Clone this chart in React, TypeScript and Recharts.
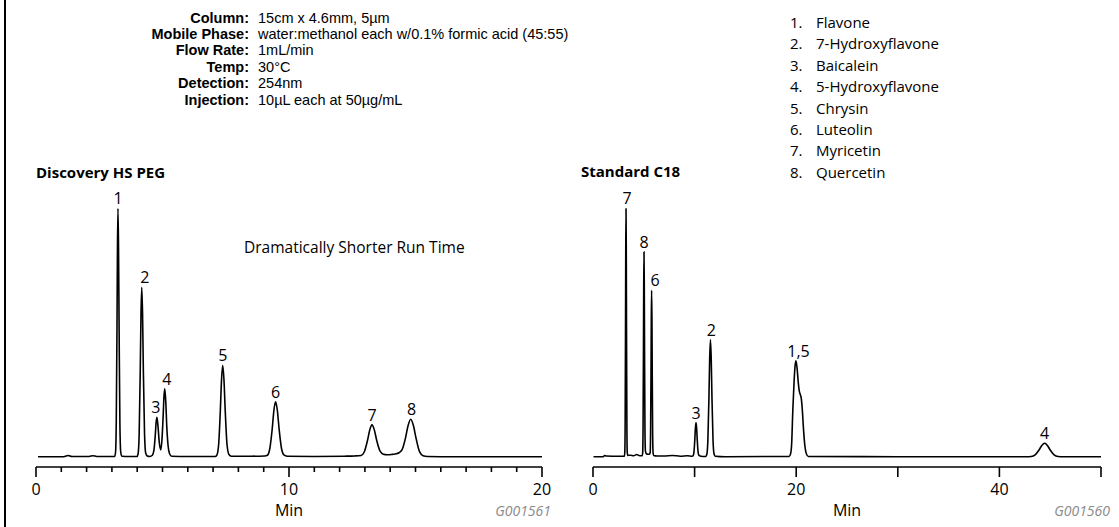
import React from "react"
import { LineChart, Line, XAxis, YAxis, ReferenceDot } from "recharts"

const conditionLabels = ["Column:", "Mobile Phase:", "Flow Rate:", "Temp:", "Detection:", "Injection:"]
const conditionValues = [
  "15cm x 4.6mm, 5µm",
  "water:methanol each w/0.1% formic acid (45:55)",
  "1mL/min",
  "30°C",
  "254nm",
  "10µL each at 50µg/mL",
]
const compounds = ["Flavone", "7-Hydroxyflavone", "Baicalein", "5-Hydroxyflavone", "Chrysin", "Luteolin", "Myricetin", "Quercetin"]

const pegTicks = [0, 1, 2, 3, 4, 5, 6, 7, 8, 9, 10, 11, 12, 13, 14, 15, 16, 17, 18, 19, 20]
const pegTickLabels = [0, 10, 20]
const c18Ticks = [0, 10, 20, 30, 40, 50]
const c18TickLabels = [0, 20, 40]

// [min, relative response]
const pegTrace: [number, number][] = [
  [0.08, 0], [1.1, 0], [1.27, 0.5], [1.42, 0.05], [2.1, 0.1], [2.25, 0.4], [2.4, 0.1], [3.0, 0.1],
  [3.11, 0.1], [3.144, 1.8], [3.172, 13.5], [3.2, 50], [3.22, 84], [3.24, 100], [3.262, 84], [3.286, 50], [3.316, 13.5], [3.348, 2], [3.39, 0.2],
  [3.7, 0.1], [3.99, 0.1], [4.036, 1.2], [4.078, 9.2], [4.12, 34.1], [4.15, 57.3], [4.18, 68.2], [4.212, 57.3], [4.244, 34.1], [4.29, 9.2], [4.335, 1.5], [4.4, 0.3],
  [4.5, 0.1], [4.6, 0.6], [4.66, 2.5], [4.71, 8], [4.75, 14], [4.78, 15.9], [4.82, 12.5], [4.87, 6], [4.93, 2.7], [4.98, 7], [5.02, 15], [5.06, 24.5], [5.09, 27.3], [5.13, 22], [5.17, 12], [5.22, 4.5], [5.28, 1.2], [5.36, 0.2],
  [6.0, 0.05], [7.08, 0.05], [7.15, 0.66], [7.22, 5.0], [7.285, 18.4], [7.333, 30.9], [7.38, 36.8], [7.43, 30.9], [7.48, 18.4], [7.55, 5.0], [7.625, 0.9], [7.72, 0.2],
  [8.5, 0.2], [9.04, 0.3], [9.146, 0.6], [9.24, 3.2], [9.335, 11.05], [9.4025, 18.6], [9.47, 22.1], [9.54, 18.6], [9.61, 11.05], [9.71, 3.0], [9.81, 0.6], [9.92, 0.2],
  [11, 0.1], [12.2, 0.2], [12.6, 0.3], [12.848, 0.5], [12.974, 1.9], [13.1, 6.4], [13.19, 10.7], [13.28, 12.8], [13.375, 10.7], [13.47, 6.4], [13.6, 2.2], [13.73, 1.0],
  [13.88, 0.8], [14.05, 0.9], [14.2, 1.1], [14.35, 1.6], [14.47, 2.8], [14.61, 7.8], [14.71, 12.65], [14.81, 15.1], [14.915, 12.65], [15.02, 7.53], [15.16, 2.03], [15.3, 0.4], [15.47, 0.1],
  [16.5, 0], [20, 0],
]

const c18Trace: [number, number][] = [
  [0.05, 0], [1.0, 0], [1.15, 0.5], [1.3, 0.3], [2.5, 0.2], [3.0, 0.2],
  [3.09, 0.2], [3.13, 1.8], [3.165, 13.5], [3.2, 50], [3.225, 84], [3.25, 100], [3.275, 84], [3.3, 50], [3.335, 13.5], [3.37, 1.8], [3.42, 0.5],
  [3.7, 0.6], [4.0, 0.4], [4.3, 0.9], [4.5, 0.5],
  [4.84, 0.4], [4.888, 1.5], [4.926, 11.1], [4.965, 41.2], [4.993, 69.2], [5.02, 82.4], [5.048, 69.2], [5.075, 41.2], [5.114, 11.1], [5.16, 2.2], [5.25, 1.2], [5.4, 1.0],
  [5.55, 1.0], [5.626, 1.6], [5.668, 9.0], [5.71, 33.5], [5.74, 56.3], [5.77, 67], [5.8, 56.3], [5.83, 33.5], [5.872, 9.0], [5.914, 1.5], [5.97, 0.5],
  [6.3, 0.3], [7.0, 0.3], [7.8, 0.5], [8.6, 0.2], [9.3, 0.4],
  [9.76, 0.2], [9.852, 0.4], [9.936, 1.85], [10.02, 6.85], [10.08, 11.5], [10.14, 13.7], [10.2, 11.5], [10.26, 6.85], [10.344, 1.85], [10.43, 0.5], [10.6, 0.2],
  [11.08, 0.05], [11.2, 0.85], [11.305, 6.4], [11.41, 23.6], [11.485, 39.6], [11.56, 47.1], [11.635, 39.6], [11.71, 23.6], [11.815, 6.4], [11.92, 1.0], [12.04, 0.2],
  [13, 0], [19.3, 0.1], [19.45, 1.2], [19.55, 5], [19.67, 19], [19.8, 31], [19.9, 37], [19.98, 38.6], [20.1, 35], [20.2, 30], [20.3, 26.5], [20.4, 25], [20.5, 23.5],
  [20.6, 19], [20.72, 11], [20.85, 4.5], [21.0, 1.2], [21.2, 0.1],
  [30, 0], [42.6, 0], [43.13, 0.1], [43.515, 0.73], [43.9, 2.7], [44.175, 4.54], [44.45, 5.4], [44.725, 4.54], [45.0, 2.7], [45.385, 0.73], [45.77, 0.1], [46.3, 0], [50, 0],
]

const pegPeaks = [
  { id: "1", t: 3.24, v: 100 },
  { id: "2", t: 4.18, v: 68.2 },
  { id: "3", t: 4.78, v: 15.9 },
  { id: "4", t: 5.09, v: 27.3 },
  { id: "5", t: 7.38, v: 36.8 },
  { id: "6", t: 9.47, v: 22.1 },
  { id: "7", t: 13.28, v: 12.8 },
  { id: "8", t: 14.81, v: 15.1 },
]

const c18Peaks = [
  { id: "7", t: 3.25, v: 100 },
  { id: "8", t: 5.02, v: 82.4 },
  { id: "6", t: 5.77, v: 67 },
  { id: "3", t: 10.14, v: 13.7 },
  { id: "2", t: 11.56, v: 47.1 },
  { id: "1,5", t: 19.98, v: 38.6 },
  { id: "4", t: 44.45, v: 5.4 },
]

// small horizontal nudges for the peak numbers
const pegNudge: Record<string, number> = { "2": 3, "3": -1, "4": 2, "8": 1 }
const c18Nudge: Record<string, number> = { "6": 3.5, "2": 1, "1,5": 2.5, "7": 1 }

const FONT = "'Open Sans', sans-serif"
// tighter vertical metrics for the stacked condition rows
const HEAD_FONT = "'Liberation Sans', Arial, sans-serif"

function AxisTick(props: any) {
  const { x, y, payload, labels, minorLen } = props
  const labeled = labels.includes(payload.value)
  const len = labeled ? 10 : minorLen
  return (
    <g>
      <line x1={x} x2={x} y1={y} y2={y + len} stroke="#000" strokeWidth={1.6} />
      {labeled && (
        <text x={x} y={y + 28} textAnchor="middle" fontSize={16} fontFamily={FONT} fill="#000">
          {payload.value}
        </text>
      )}
    </g>
  )
}

function Chromatogram(props: any) {
  const { trace, peaks, nudge, ticks, tickLabels, max, left, width, plotLeft, plotRight, minorLen, code } = props
  const data = trace.map(([t, v]: [number, number]) => ({ t, v }))
  const mid = plotLeft + (width - plotLeft - plotRight) / 2
  return (
    <div style={{ position: "absolute", left, top: 0, width, height: 527 }}>
      <LineChart width={width} height={527} data={data} margin={{ top: 208.3, right: plotRight, bottom: 0, left: plotLeft }}>
        <XAxis
          type="number"
          dataKey="t"
          domain={[0, max]}
          ticks={ticks}
          interval={0}
          height={60}
          tickSize={0}
          tickMargin={0}
          tickLine={false}
          axisLine={{ stroke: "#000", strokeWidth: 1.6 }}
          tick={(p: any) => <AxisTick {...p} labels={tickLabels} minorLen={minorLen} />}
        />
        <YAxis hide domain={[-4.15, 100]} allowDataOverflow />
        <Line type="monotone" dataKey="v" stroke="#000" strokeWidth={1.6} dot={false} isAnimationActive={false} />
        {peaks.map((p: any) => (
          <ReferenceDot
            key={p.id}
            x={p.t}
            y={p.v}
            r={0}
            shape={(s: any) => (
              <text x={s.cx + (nudge[p.id] || 0)} y={s.cy - 4} textAnchor="middle" fontSize={16} fontFamily={FONT} fill="#000">
                {p.id}
              </text>
            )}
          />
        ))}
      </LineChart>
      <div style={{ position: "absolute", left: mid - 30, width: 60, top: 499, textAlign: "center", fontSize: 16, lineHeight: "22px" }}>Min</div>
      <div style={{ position: "absolute", right: width - (width - plotRight + 9), top: 501, fontSize: 14, lineHeight: "20px", fontStyle: "italic", color: "#8a8a8a" }}>
        {code}
      </div>
    </div>
  )
}

export default function App() {
  return (
    <div style={{ position: "absolute", left: 0, top: 0, width: 1119, height: 527, background: "#fff", fontFamily: FONT, color: "#000", overflow: "hidden" }}>
      <div style={{ position: "absolute", left: 4, top: 0, width: 2, height: 527, background: "#000" }} />

      {conditionLabels.map((label, i) => (
        <div key={label} style={{ position: "absolute", top: 9.5 + i * 16.4, right: 1119 - 249, fontFamily: HEAD_FONT, fontSize: 14.5, lineHeight: "16.2px", fontWeight: 700, whiteSpace: "nowrap" }}>
          {label}
        </div>
      ))}
      {conditionValues.map((value, i) => (
        <div key={value} style={{ position: "absolute", top: 9.5 + i * 16.4, left: 258, fontFamily: HEAD_FONT, fontSize: 14.5, lineHeight: "16.2px", whiteSpace: "nowrap" }}>
          {value}
        </div>
      ))}

      {compounds.map((name, i) => (
        <React.Fragment key={name}>
          <div style={{ position: "absolute", top: 12 + i * 21.4, left: 790, fontSize: 15, lineHeight: "21.4px" }}>{i + 1}.</div>
          <div style={{ position: "absolute", top: 12 + i * 21.4, left: 816, fontSize: 15, lineHeight: "21.4px", whiteSpace: "nowrap" }}>{name}</div>
        </React.Fragment>
      ))}

      <div style={{ position: "absolute", left: 36, top: 162, fontSize: 15, lineHeight: "20px", fontWeight: 700 }}>Discovery HS PEG</div>
      <div style={{ position: "absolute", left: 581, top: 161, fontSize: 15, lineHeight: "20px", fontWeight: 700 }}>Standard C18</div>
      <div style={{ position: "absolute", left: 244, top: 237, fontSize: 15.5, lineHeight: "20px" }}>Dramatically Shorter Run Time</div>

      <Chromatogram
        trace={pegTrace}
        peaks={pegPeaks}
        nudge={pegNudge}
        ticks={pegTicks}
        tickLabels={pegTickLabels}
        max={20}
        left={0}
        width={560}
        plotLeft={36}
        plotRight={18}
        minorLen={5}
        code="G001561"
      />
      <Chromatogram
        trace={c18Trace}
        peaks={c18Peaks}
        nudge={c18Nudge}
        ticks={c18Ticks}
        tickLabels={c18TickLabels}
        max={50}
        left={560}
        width={559}
        plotLeft={33}
        plotRight={18}
        minorLen={10}
        code="G001560"
      />
    </div>
  )
}
